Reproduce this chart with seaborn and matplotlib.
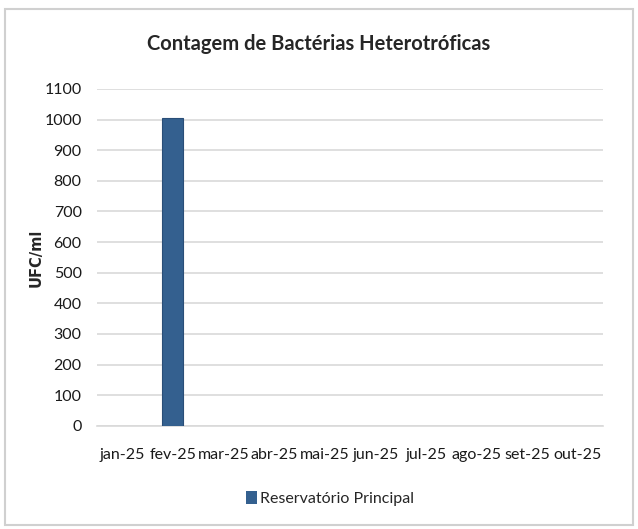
import numpy as np
import pandas as pd
import matplotlib
matplotlib.use("Agg")
import matplotlib.pyplot as plt
import seaborn as sb

months = ["jan-25", "fev-25", "mar-25", "abr-25", "mai-25",
          "jun-25", "jul-25", "ago-25", "set-25", "out-25"]
ufc = [0, 1005, 0, 0, 0, 0, 0, 0, 0, 0]
series = "Reservatório Principal"

sb.set_style("white")
plt.rcParams["font.family"] = ["Lato", "DejaVu Sans"]

df = pd.DataFrame({"mes": months, "ufc": ufc, "serie": series})

fig = plt.figure(figsize=(6.38, 5.29), dpi=100)
ax = fig.add_axes([0.152, 0.195, 0.793, 0.637])

sb.barplot(data=df, x="mes", y="ufc", hue="serie", palette=["#34608F"],
           saturation=1, width=0.42, linewidth=0, ax=ax, zorder=3)
for p in ax.patches:
    if p.get_height() > 0:
        p.set_edgecolor("#2A4E78")
        p.set_linewidth(0.8)

ax.set_ylim(0, 1100)
ax.set_yticks(np.arange(0, 1101, 100))
ax.yaxis.grid(True, color="#D9D9D9", linewidth=1.2, zorder=0)
for s in ["top", "right", "left"]:
    ax.spines[s].set_visible(False)
ax.spines["bottom"].set_color("#D9D9D9")
ax.spines["bottom"].set_linewidth(1.2)
ax.tick_params(axis="both", length=0, labelsize=11.5, colors="#1a1a1a")
ax.tick_params(axis="y", pad=11)
ax.tick_params(axis="x", pad=16)
ax.set_xlabel("")
ax.set_ylabel("UFC/ml", fontsize=10.5, fontweight="bold",
              family=["DejaVu Sans"])
ax.yaxis.set_label_coords(-0.105, 0.5)

fig.suptitle("Contagem de Bactérias Heterotróficas", y=0.935,
             fontsize=14.5, fontweight="bold")

ax.legend(loc="upper center", bbox_to_anchor=(0.46, -0.15), frameon=False,
          fontsize=11.5, handlelength=0.7, handleheight=0.9, handletextpad=0.2)

fig.patches.append(plt.Rectangle((0.008, 0.008), 0.984, 0.975,
                                 transform=fig.transFigure, fill=False,
                                 edgecolor="#D0D0D0", linewidth=1.5))

fig.savefig("out.png", dpi=100)
